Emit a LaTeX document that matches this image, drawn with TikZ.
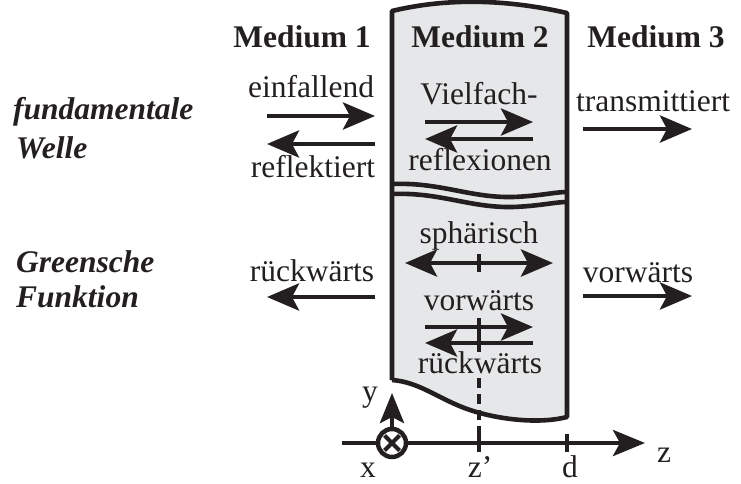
\documentclass[tikz,border=0pt]{standalone}
\usepackage{fontspec}
\setmainfont{Liberation Serif}
\usetikzlibrary{arrows.meta}
\definecolor{ink}{HTML}{231F20}
\definecolor{slabgray}{HTML}{E6E7E8}

\begin{document}
\begin{tikzpicture}[x=1pt,y=-1pt,
  >={Stealth[length=32pt,width=27pt,inset=7pt]},
  lbl/.style={font=\fontsize{31.5}{36}\selectfont, text=ink, inner sep=0pt, anchor=base},
  head/.style={lbl, font=\fontsize{31.5}{36}\selectfont\bfseries},
  side/.style={lbl, anchor=base west, font=\fontsize{31.5}{36}\selectfont\bfseries\itshape},
  wavearrow/.style={draw=ink, line width=4.8pt, ->},
  edge/.style={draw=ink, line width=4.6pt, line join=round},
  marker/.style={draw=ink, line width=4.6pt}
]
\useasboundingbox (0,0) rectangle (741,484);

% layer slab with curved cut edges
\path[fill=slabgray] (392,11) .. controls (450,-3) and (510,0) .. (567,13)
  -- (567,417) .. controls (540,424) and (500,420) .. (470,410)
  .. controls (440,400) and (420,382) .. (392,380) -- cycle;
\draw[edge] (392,380) -- (392,11) .. controls (450,-3) and (510,0) .. (567,13)
  -- (567,417) .. controls (540,424) and (500,420) .. (470,410)
  .. controls (440,400) and (420,382) .. (392,380);

% break marks across the slab
\foreach \dy in {0,10}{
  \draw[edge] (392,184+\dy) .. controls (440,182+\dy) and (470,198+\dy) .. (513,197+\dy)
    .. controls (540,196+\dy) and (555,192+\dy) .. (567,192+\dy);
}

% column headings
\node[head] (m1) at (302,48) {Medium 1};
\node[head] (m2) at (480,48) {Medium 2};
\node[head] (m3) at (656,48) {Medium 3};

% row headings
\node[side] (fw1) at (13,120) {fundamentale};
\node[side] (fw2) at (16,158) {Welle};
\node[side] (gf1) at (16,272) {Greensche};
\node[side] (gf2) at (16,307) {Funktion};

% medium 1
\node[lbl] (einf) at (311,98) {einfallend};
\node[lbl] (refl) at (313,177) {reflektiert};
\node[lbl] (rw1) at (312,281) {rückwärts};
\coordinate (e1a) at (267,116); \coordinate (e1b) at (375,116);
\coordinate (r1a) at (375,144); \coordinate (r1b) at (267,144);
\coordinate (b1a) at (375,297); \coordinate (b1b) at (267,297);
\draw[wavearrow] (e1a) -- (e1b);
\draw[wavearrow] (r1a) -- (r1b);
\draw[wavearrow] (b1a) -- (b1b);

% medium 2
\node[lbl] (vf) at (479,105) {Vielfach-};
\node[lbl] (rx) at (480,170) {reflexionen};
\node[lbl] (sp) at (479,243) {sphärisch};
\node[lbl] (vw2) at (479,310) {vorwärts};
\node[lbl] (rw2) at (480,373) {rückwärts};
\coordinate (m2a) at (425,122); \coordinate (m2b) at (533,122);
\coordinate (m2c) at (533,139); \coordinate (m2d) at (425,139);
\coordinate (s2a) at (405,263); \coordinate (s2b) at (553,263);
\coordinate (g2a) at (425,327); \coordinate (g2b) at (533,327);
\coordinate (g2c) at (533,343); \coordinate (g2d) at (425,343);
\draw[wavearrow] (m2a) -- (m2b);
\draw[wavearrow] (m2c) -- (m2d);
\draw[wavearrow, <->] (s2a) -- (s2b);
\draw[wavearrow] (g2a) -- (g2b);
\draw[wavearrow] (g2c) -- (g2d);

% source position z'
\coordinate (zp1) at (479,254); \coordinate (zp2) at (479,272);
\coordinate (zp3) at (479,318); \coordinate (zp4) at (479,352);
\coordinate (zp5) at (479,378); \coordinate (zp6) at (479,451);
\draw[marker] (zp1) -- (zp2);
\draw[marker] (zp3) -- (zp4);
\draw[marker, dash pattern=on 10pt off 6pt] (zp5) -- (zp6);

% medium 3
\node[lbl] (tr) at (653,112) {transmittiert};
\node[lbl] (vw3) at (638,282) {vorwärts};
\coordinate (t3a) at (583,129); \coordinate (t3b) at (692,129);
\coordinate (f3a) at (583,296); \coordinate (f3b) at (692,296);
\draw[wavearrow] (t3a) -- (t3b);
\draw[wavearrow] (f3a) -- (f3b);

% coordinate axes
\coordinate (za) at (342,443); \coordinate (zb) at (645,443);
\draw[marker, -{Stealth[length=32pt,width=26pt,inset=7pt]}] (za) -- (zb);
\coordinate (tz1) at (479,434); \coordinate (tz2) at (479,452);
\coordinate (td1) at (567,434); \coordinate (td2) at (567,452);
\draw[marker] (tz1) -- (tz2);
\draw[marker] (td1) -- (td2);
\node[circle, draw=ink, fill=white, line width=4.5pt, minimum size=28pt, inner sep=0pt] (ox) at (392,443) {};
\draw[marker, line width=4pt] ([shift={(-7.5,-7.5)}]ox.center) -- ([shift={(7.5,7.5)}]ox.center);
\draw[marker, line width=4pt] ([shift={(-7.5,7.5)}]ox.center) -- ([shift={(7.5,-7.5)}]ox.center);
\coordinate (yt) at (392,393);
\draw[marker, -{Stealth[length=30pt,width=24pt,inset=6pt]}] (ox.north) -- (yt);

\node[lbl] (ly) at (370,401) {y};
\node[lbl] (lx) at (368,477) {x};
\node[lbl] (lzp) at (480,477) {z'};
\node[lbl] (ld) at (570,477) {d};
\node[lbl] (lz) at (664,462) {z};
\end{tikzpicture}
\end{document}
